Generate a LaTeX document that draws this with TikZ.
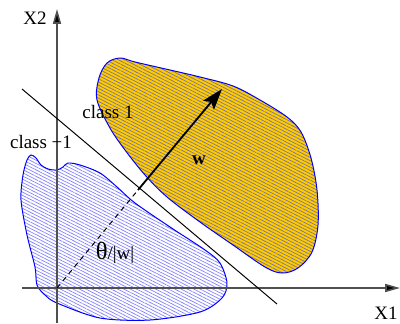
\documentclass[tikz,border=0pt]{standalone}
\usepackage{fontspec}
\setmainfont{Liberation Serif}
\usetikzlibrary{arrows.meta,patterns.meta}
\definecolor{gold}{RGB}{255,204,0}
\definecolor{hatchY}{RGB}{125,115,150}
\definecolor{hatchB}{RGB}{130,130,255}
\definecolor{axisgray}{RGB}{80,80,80}
\tikzset{
  region/.style={draw=blue, line width=0.7pt},
  hatch/.style={pattern={Lines[angle=-27,distance=2.05pt,line width=0.5pt]}},
  axis/.style={draw=axisgray, line width=1.1pt, -{Triangle[length=10.5pt,width=5.7pt,fill=black]}},
  lbl/.style={font=\fontsize{13.5}{16}\selectfont, inner sep=0pt},
}
\begin{document}
\begin{tikzpicture}[x=0.025cm,y=-0.025cm]
\useasboundingbox (0,0) rectangle (400,323);
% class 1 region (yellow)
\path[region, preaction={fill=gold}, hatch, pattern color=hatchY]
  plot[smooth cycle, tension=0.55] coordinates {
  (120,58) (135,62) (170,70) (200,77) (233,86) (260,100) (287,117) (301,132)
  (311,158) (317,190) (318,225) (312,252) (298,268) (282,273) (265,267)
  (233,245) (200,222) (167,197) (145,175) (125,150) (110,128) (97,100) (99,78) (107,63)};
% class -1 region (blue hatch)
\path[region, preaction={fill=white}, hatch, pattern color=hatchB]
  plot[smooth cycle, tension=0.5] coordinates {
  (31,155) (36,158) (41,165) (48,169) (57,170) (63,167) (68,163) (80,165)
  (100,173) (117,187) (135,203) (170,227) (205,250) (220,263) (227,283)
  (222,298) (200,312) (150,320) (100,318) (57,303) (45,295) (37,285)
  (35,267) (27,235) (21,200) (23,175) (27,160)};
% axes
\coordinate (xs) at (22,288);
\coordinate (xe) at (400,288);
\coordinate (ys) at (57,323);
\coordinate (ye) at (57,9);
\coordinate (o) at (57,288);
\draw[axis] (xs) -- (xe);
\draw[axis] (ys) -- (ye);
% separating line
\coordinate (la) at (22,89);
\coordinate (lb) at (277,304);
\draw[line width=0.7pt] (la) -- (lb);
% w vector
\coordinate (m) at (138,190);
\coordinate (wt) at (222,89);
\draw[line width=0.7pt, dash pattern=on 3.5pt off 3pt] (o) -- (m);
\draw[line width=1.3pt, -{Stealth[length=15pt,width=10pt,inset=3pt]}] (m) -- (wt);
% labels
\node[lbl] (X2) at (35,18.5) {X2};
\node[lbl] (X1) at (386,313) {X1};
\node[lbl] (c1) at (108,112) {class 1};
\node[lbl] (cm1) at (41,142) {class −1};
\node[lbl] (w) at (199,160) {\bfseries w};
\node[lbl] (th) at (115,253) {\scalebox{1.3}{θ}/|w|};
\end{tikzpicture}
\end{document}
